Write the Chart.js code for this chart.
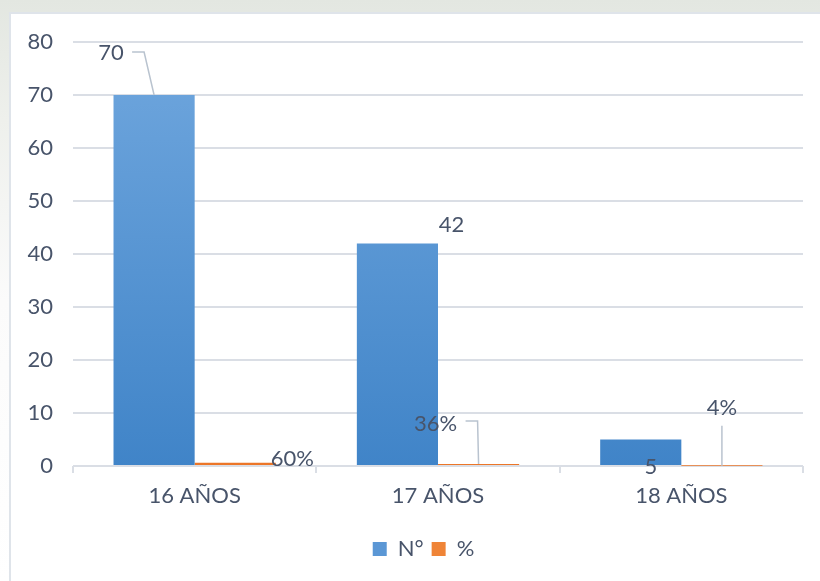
<!DOCTYPE html>
<html lang="es">
<head>
<meta charset="utf-8">
<title>Edad</title>
<script src="https://cdn.jsdelivr.net/npm/chart.js@4.4.1/dist/chart.umd.min.js"></script>
<style>
  html, body { margin: 0; padding: 0; }
  body {
    width: 820px; height: 581px; overflow: hidden; position: relative;
    background: linear-gradient(to bottom, #e3e7e1 0px, #eef0ec 120px, #fbfbfb 300px, #ffffff 581px);
  }
  .frame {
    position: absolute; left: 9px; top: 12px; right: -4px; bottom: -4px;
    background: #fff; border-left: 2px solid #dfe4ea; border-top: 2px solid #dfe4ea;
  }
  #grafico { position: absolute; left: 0; top: 0; }
</style>
</head>
<body>
<div class="frame"></div>
<canvas id="grafico" width="820" height="581"></canvas>
<script>
// edades de los estudiantes
const categorias = ['16 AÑOS', '17 AÑOS', '18 AÑOS'];
const cantidad = [70, 42, 5];
const porcentaje = [0.60, 0.36, 0.04];
const etiquetasPct = ['60%', '36%', '4%'];
const ticksY = [0, 10, 20, 30, 40, 50, 60, 70, 80];

const textColor = '#48546a';
const gridColor = '#dadee5';
const fontFam = 'Lato, "Open Sans", sans-serif';
const fontSize = 22;

function gradiente(ctx, top, bottom) {
  const area = ctx.chart.chartArea;
  if (!area) return top;
  const g = ctx.chart.ctx.createLinearGradient(0, area.top, 0, area.bottom);
  g.addColorStop(0, top);
  g.addColorStop(1, bottom);
  return g;
}

// posiciones de las etiquetas respecto a la barra: [dx, dy, guia]
const posN = [
  { dx: -43, dy: -42, guia: [[-22, -43], [-10, -43], [0, 0]] },
  { dx: 54, dy: -18 },
  { dx: 10, dy: 27 }
];
const posPct = [
  { dx: 57, dy: -4 },
  { dx: -43, dy: -40, guia: [[-13, -43], [-1, -43], [0, 0]] },
  { dx: 0, dy: -58, guia: [[0, -40], [0, 0]] }
];

const etiquetas = {
  id: 'etiquetas',
  afterLayout(chart) {
    // leyenda algo a la derecha del centro
    chart.legend.left += 22;
    chart.legend.right += 22;
  },
  afterDatasetsDraw(chart) {
    const c = chart.ctx;
    c.save();
    c.font = fontSize + 'px ' + fontFam;
    c.fillStyle = textColor;
    c.textAlign = 'center';
    c.textBaseline = 'middle';
    const dibujar = (meta, textos, pos) => {
      meta.data.forEach((bar, i) => {
        const p = pos[i];
        if (p.guia) {
          c.strokeStyle = '#b9c3cf';
          c.lineWidth = 1.5;
          c.beginPath();
          p.guia.forEach(([gx, gy], k) => {
            if (k === 0) c.moveTo(bar.x + gx, bar.y + gy);
            else c.lineTo(bar.x + gx, bar.y + gy);
          });
          c.stroke();
        }
        c.fillText(textos[i], bar.x + p.dx, bar.y + p.dy);
      });
    };
    dibujar(chart.getDatasetMeta(0), cantidad.map(String), posN);
    dibujar(chart.getDatasetMeta(1), etiquetasPct, posPct);
    c.restore();
  }
};

new Chart(document.getElementById('grafico'), {
  type: 'bar',
  data: {
    labels: categorias,
    datasets: [
      {
        label: 'N°',
        data: cantidad,
        backgroundColor: ctx => gradiente(ctx, '#70a7de', '#4084c8'),
        borderWidth: 0
      },
      {
        label: '%',
        data: porcentaje,
        backgroundColor: ctx => gradiente(ctx, '#f39a55', '#ec7628'),
        borderWidth: 0
      }
    ]
  },
  options: {
    responsive: false,
    animation: false,
    events: [],
    layout: { padding: { top: 42, right: 17, bottom: 11, left: 0 } },
    datasets: { bar: { categoryPercentage: 0.667, barPercentage: 1 } },
    scales: {
      x: {
        afterFit: s => { s.height = 64; },
        grid: { drawOnChartArea: false, drawTicks: true, tickLength: 7, color: gridColor, lineWidth: 2 },
        border: { display: false },
        ticks: { color: textColor, font: { family: fontFam, size: fontSize }, padding: 10 }
      },
      y: {
        min: 0,
        max: 80,
        afterFit: s => { s.width = 73; },
        afterBuildTicks: s => { s.ticks = ticksY.map(v => ({ value: v })); },
        grid: { color: gridColor, lineWidth: 2, drawTicks: false },
        border: { display: false },
        ticks: { color: textColor, font: { family: fontFam, size: fontSize }, padding: 20 }
      }
    },
    plugins: {
      tooltip: { enabled: false },
      legend: {
        position: 'bottom',
        labels: {
          color: textColor,
          font: { family: fontFam, size: fontSize },
          boxWidth: 14,
          boxHeight: 14,
          padding: 8,
          generateLabels: chart => chart.data.datasets.map((d, i) => ({
            text: d.label,
            fillStyle: i === 0 ? '#5b97d5' : '#ef8437',
            strokeStyle: 'transparent',
            lineWidth: 0,
            fontColor: textColor,
            datasetIndex: i
          }))
        }
      }
    }
  },
  plugins: [etiquetas]
});
</script>
</body>
</html>
